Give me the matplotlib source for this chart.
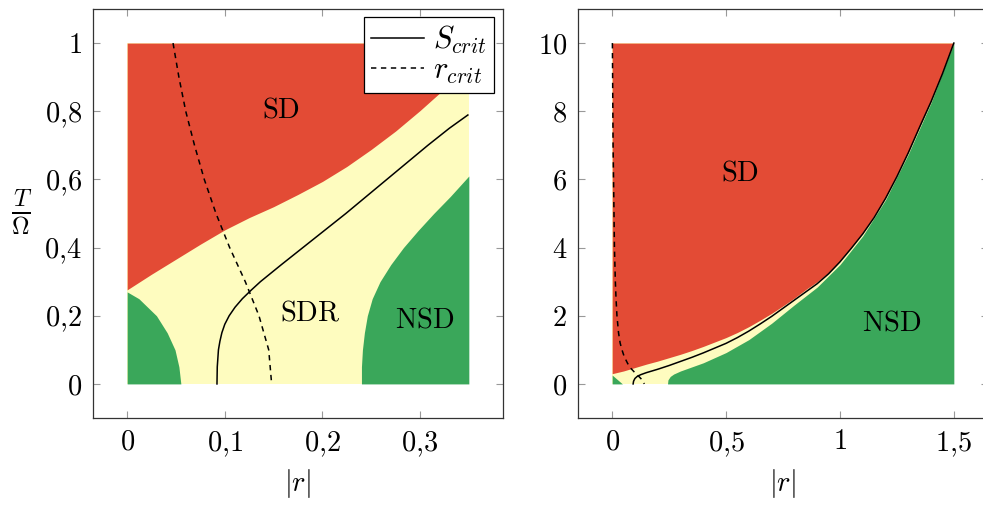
import matplotlib
matplotlib.use("Agg")
import matplotlib.pyplot as plt

plt.rcParams['mathtext.fontset'] = 'cm'
plt.rcParams['font.family'] = 'serif'
plt.rcParams['font.serif'] = ['cmr10', 'DejaVu Serif']
plt.rcParams['axes.unicode_minus'] = False

RED = '#e34b35'
YELLOW = '#fefcbf'
GREEN = '#3aa75a'

# ---- left panel: |r| in [0, 0.35], T/Omega in [0, 1]
r_max_l, t_max_l = 0.35, 1.0

# lower edge of the SD region
sd_l_r = [0.0, 0.025, 0.05, 0.075, 0.1, 0.125, 0.15, 0.175, 0.2, 0.225, 0.25, 0.275, 0.3, 0.325, 0.35]
sd_l_t = [0.276, 0.322, 0.366, 0.410, 0.452, 0.488, 0.520, 0.556, 0.594, 0.638, 0.688, 0.742, 0.802, 0.866, 0.93]

# NSD pockets, given as |r| of the edge for each T/Omega
nsd1_l_t = [0.27, 0.25, 0.2, 0.15, 0.1, 0.05, 0.0]
nsd1_l_r = [0.0, 0.012, 0.030, 0.041, 0.049, 0.053, 0.055]

nsd2_l_t = [0.0, 0.05, 0.10, 0.15, 0.2, 0.25, 0.3, 0.35, 0.4, 0.45, 0.5, 0.55, 0.61]
nsd2_l_r = [0.240, 0.240, 0.241, 0.243, 0.246, 0.251, 0.259, 0.270, 0.283, 0.298, 0.314, 0.331, 0.35]

scrit_l_t = [0.0, 0.05, 0.1, 0.125, 0.15, 0.175, 0.2, 0.225, 0.25, 0.275, 0.3, 0.35, 0.4, 0.45, 0.5,
             0.55, 0.6, 0.65, 0.7, 0.75, 0.789]
scrit_l_r = [0.092, 0.0923, 0.0935, 0.0950, 0.0970, 0.1000, 0.1045, 0.1105, 0.1180, 0.1270, 0.1365,
             0.158, 0.180, 0.202, 0.224, 0.245, 0.266, 0.287, 0.308, 0.330, 0.349]

rcrit_l_t = [1.0, 0.9, 0.8, 0.7, 0.6, 0.5, 0.4, 0.3, 0.2, 0.1, 0.0]
rcrit_l_r = [0.047, 0.053, 0.060, 0.069, 0.079, 0.091, 0.105, 0.121, 0.135, 0.145, 0.148]

# ---- right panel: |r| in [0, 1.5], T/Omega in [0, 10]
r_max_r, t_max_r = 1.5, 10.0

sd_r_r = [0.0, 0.05, 0.1, 0.15, 0.2, 0.25, 0.3, 0.35, 0.4, 0.45, 0.5, 0.55, 0.6, 0.65, 0.7, 0.75,
          0.8, 0.85, 0.9, 0.95, 1.0, 1.1, 1.2, 1.3, 1.4, 1.5]
sd_r_t = [0.30, 0.38, 0.48, 0.58, 0.67, 0.77, 0.87, 0.98, 1.10, 1.23, 1.36, 1.51, 1.68, 1.87, 2.07, 2.29,
          2.52, 2.77, 3.00, 3.27, 3.61, 4.42, 5.46, 6.80, 8.29, 10.0]

nsd1_r_r = [0.0, 0.045]
nsd1_r_t = [0.26, 0.0]

nsd2_r_r = [0.243, 0.245, 0.255, 0.27, 0.3, 0.4, 0.5, 0.6, 0.7, 0.8, 0.9, 1.0, 1.1, 1.2, 1.3, 1.4, 1.5]
nsd2_r_t = [0.0, 0.12, 0.22, 0.29, 0.38, 0.62, 0.92, 1.30, 1.78, 2.32, 2.84, 3.50, 4.34, 5.40, 6.74, 8.25, 10.0]

scrit_r_r = [0.092, 0.094, 0.100, 0.110, 0.125, 0.15, 0.2, 0.25, 0.3, 0.35, 0.4, 0.45, 0.5, 0.55, 0.6,
             0.65, 0.7, 0.75, 0.8, 0.85, 0.9, 0.95, 1.0, 1.05, 1.1, 1.15, 1.2, 1.25, 1.3, 1.35, 1.4,
             1.45, 1.5]
scrit_r_t = [0.0, 0.08, 0.16, 0.22, 0.27, 0.33, 0.43, 0.54, 0.66, 0.78, 0.91, 1.05, 1.19, 1.36, 1.55,
             1.76, 1.98, 2.22, 2.46, 2.70, 2.94, 3.23, 3.58, 3.98, 4.40, 4.88, 5.44, 6.08, 6.78, 7.54, 8.28,
             9.10, 10.0]

rcrit_r_t = [10, 9, 8, 7, 6, 5, 4, 3, 2.5, 2, 1.5, 1.2, 1.0, 0.8, 0.6, 0.45, 0.3, 0.2, 0.1, 0]
rcrit_r_r = [0.001, 0.002, 0.003, 0.004, 0.006, 0.008, 0.010, 0.014, 0.017, 0.021, 0.028, 0.035, 0.043,
             0.053, 0.068, 0.083, 0.104, 0.120, 0.134, 0.141]

fig = plt.figure(figsize=(9.83, 5.09), dpi=100)
ax1 = fig.add_axes([93 / 983, 91 / 509, 410 / 983, 409 / 509])
ax2 = fig.add_axes([578 / 983, 91 / 509, 410 / 983, 409 / 509])


def style(ax, xticks, xlabels, yticks, ylabels, xlim, ylim):
    ax.set_xlim(*xlim)
    ax.set_ylim(*ylim)
    ax.set_xticks(xticks, xlabels)
    ax.set_yticks(yticks, ylabels)
    ax.tick_params(direction='in', length=5, width=0.8, color='0.6', top=True, right=True,
                   labelsize=20.5, pad=8)
    for s in ax.spines.values():
        s.set_color('0.2')
        s.set_linewidth(0.9)
    ax.set_xlabel('$|r|$', fontsize=20.5, labelpad=6)


# left panel regions
ax1.fill_between([0, r_max_l], 0, t_max_l, color=YELLOW, lw=0)
ax1.fill_between(sd_l_r, sd_l_t, t_max_l, color=RED, lw=0)
ax1.fill_betweenx(nsd1_l_t, 0, nsd1_l_r, color=GREEN, lw=0)
ax1.fill_betweenx(nsd2_l_t, nsd2_l_r, r_max_l, color=GREEN, lw=0)

l1, = ax1.plot(scrit_l_r, scrit_l_t, color='black', lw=1.1, label='$S_{crit}$')
l2, = ax1.plot(rcrit_l_r, rcrit_l_t, color='black', lw=1.1, ls=(0, (3.5, 3)), label='$r_{crit}$')
ax1.text(0.158, 0.803, r'$\mathrm{SD}$', fontsize=20.5, ha='center', va='center')
ax1.text(0.187, 0.207, r'$\mathrm{SDR}$', fontsize=20.5, ha='center', va='center')
ax1.text(0.305, 0.188, r'$\mathrm{NSD}$', fontsize=20.5, ha='center', va='center')
style(ax1, [0, 0.1, 0.2, 0.3], ['$0$', '$0{,}1$', '$0{,}2$', '$0{,}3$'],
      [0, 0.2, 0.4, 0.6, 0.8, 1.0], ['$0$', '$0{,}2$', '$0{,}4$', '$0{,}6$', '$0{,}8$', '$1$'],
      (-0.035, 0.385), (-0.1, 1.1))
ax1.set_ylabel(r'$\frac{T}{\Omega}$', fontsize=25, rotation=0, ha='center', va='center')
ax1.yaxis.set_label_coords(-0.173, 0.501)
leg = ax1.legend(handles=[l1, l2], loc='upper right', bbox_to_anchor=(0.978, 0.980),
                 borderaxespad=0, fontsize=22, fancybox=False, framealpha=1,
                 edgecolor='black', handlelength=1.75, handletextpad=0.3,
                 labelspacing=0.05, borderpad=0.22)
leg.get_frame().set_linewidth(0.9)

# right panel regions
ax2.fill_between([0, r_max_r], 0, t_max_r, color=YELLOW, lw=0)
ax2.fill_between(sd_r_r, sd_r_t, t_max_r, color=RED, lw=0)
ax2.fill_between(nsd1_r_r, 0, nsd1_r_t, color=GREEN, lw=0)
ax2.fill_between(nsd2_r_r, 0, nsd2_r_t, color=GREEN, lw=0)

ax2.plot(scrit_r_r, scrit_r_t, color='black', lw=1.1)
ax2.plot(rcrit_r_r, rcrit_r_t, color='black', lw=1.1, ls=(0, (3.5, 3)))
ax2.text(0.559, 6.18, r'$\mathrm{SD}$', fontsize=20.5, ha='center', va='center')
ax2.text(1.228, 1.78, r'$\mathrm{NSD}$', fontsize=20.5, ha='center', va='center')
style(ax2, [0, 0.5, 1, 1.5], ['$0$', '$0{,}5$', '$1$', '$1{,}5$'],
      [0, 2, 4, 6, 8, 10], ['$0$', '$2$', '$4$', '$6$', '$8$', '$10$'],
      (-0.15, 1.65), (-1, 11))

fig.savefig('out.png', dpi=100)
